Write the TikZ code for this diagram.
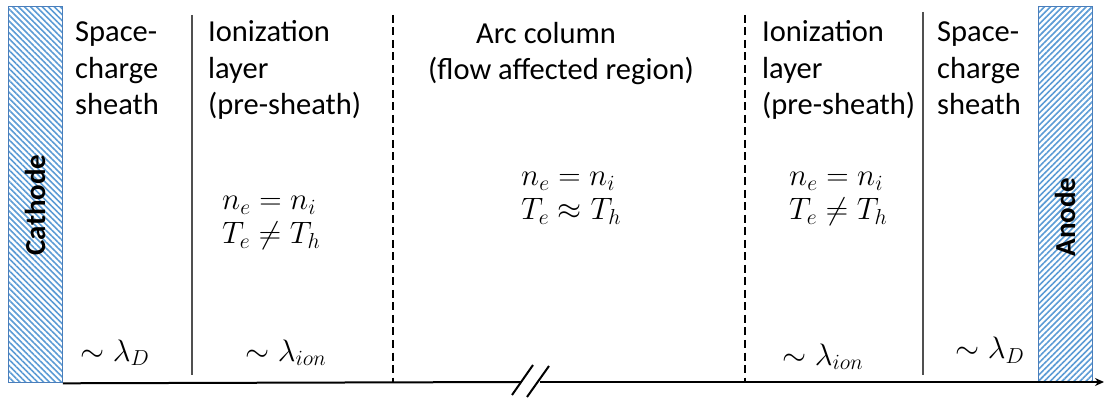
\RequirePackage{fix-cm}
\documentclass[tikz,border=0pt]{standalone}
\usepackage{fontspec}
\setmainfont{Carlito}
\usetikzlibrary{patterns.meta,arrows.meta}
\definecolor{elblue}{HTML}{4A7EBB}
\definecolor{hatchblue}{HTML}{5B9BD5}
\definecolor{sepgray}{HTML}{505050}
\begin{document}
\begin{tikzpicture}[x=1pt,y=-1pt,
  electrode/.style={draw=elblue, line width=1pt, pattern color=hatchblue,
    minimum width=54pt, minimum height=376pt, inner sep=0pt},
  eltext/.style={rotate=90, font=\fontsize{29}{34}\selectfont\bfseries, inner sep=0pt},
  lbl/.style={font=\fontsize{30.5}{36.5}\selectfont, align=left, anchor=base west, inner sep=0pt},
  clbl/.style={font=\fontsize{30.5}{36}\selectfont, align=center, anchor=base, inner sep=0pt},
  mlbl/.style={font=\fontsize{31}{34}\selectfont, align=left, anchor=base west, inner sep=0pt},
  solidsep/.style={draw=sepgray, line width=1.3pt},
  dashsep/.style={draw=black, line width=1.4pt, dash pattern=on 8pt off 4.5pt},
  axis/.style={draw=black, line width=2pt},
  brk/.style={draw=black, line width=2pt}]
\useasboundingbox (0,0) rectangle (1104,398);

% electrodes
\node[electrode, pattern={Lines[angle=-45,distance=4.2pt,line width=1.6pt]}] (cathode) at (35,194.5) {};
\node[eltext] (cathodetext) at (35,205) {Cathode};
\node[electrode, pattern={Lines[angle=45,distance=4.2pt,line width=1.6pt]}] (anode) at (1065,194.5) {};
\node[eltext] (anodetext) at (1065,217) {Anode};

% separators
\coordinate (s1t) at (192,15);  \coordinate (s1b) at (192,375);
\coordinate (d1t) at (393,15);  \coordinate (d1b) at (393,382);
\coordinate (d2t) at (745,15);  \coordinate (d2b) at (745,382);
\coordinate (s2t) at (923,12);  \coordinate (s2b) at (923,375);
\draw[solidsep] (s1t) -- (s1b);
\draw[dashsep] (d1t) -- (d1b);
\draw[dashsep] (d2t) -- (d2b);
\draw[solidsep] (s2t) -- (s2b);

% axis with break
\coordinate (b1) at (521,382);
\coordinate (b2) at (540,382);
\coordinate (axend) at (1104,382);
\draw[axis] (cathode.south east) -- (b1);
\draw[axis, -{Stealth[length=9pt,width=8pt]}] (b2) -- (axend);
\coordinate (k1a) at (512,395); \coordinate (k1b) at (533,365);
\coordinate (k2a) at (527,397); \coordinate (k2b) at (549,366);
\draw[brk] (k1a) -- (k1b);
\draw[brk] (k2a) -- (k2b);

% headings (anchor at baseline of last line)
\node[lbl] (sh1) at (75,115) {Space-\\charge\\sheath};
\node[lbl] (ion1) at (208,115) {Ionization\\layer\\(pre-sheath)};
\node[clbl] (arc) at (561,80) {Arc column\hspace*{30pt}\\(flow affected region)};
\node[lbl] (ion2) at (762,115) {Ionization\\layer\\(pre-sheath)};
\node[lbl] (sh2) at (937,115) {Space-\\charge\\sheath};

% relations (anchor at baseline of last line)
\node[mlbl] (rel1) at (222,244) {$n_e = n_i$\\$T_e \neq T_h$};
\node[mlbl] (rel2) at (521,220) {$n_e = n_i$\\$T_e \approx T_h$};
\node[mlbl] (rel3) at (789,220) {$n_e = n_i$\\$T_e \neq T_h$};

% scales
\node[mlbl] (sc1) at (80,361) {$\sim\lambda_D$};
\node[mlbl] (sc2) at (245,361) {$\sim\lambda_{ion}$};
\node[mlbl] (sc3) at (782,365) {$\sim\lambda_{ion}$};
\node[mlbl] (sc4) at (955,359) {$\sim\lambda_D$};
\end{tikzpicture}
\end{document}
